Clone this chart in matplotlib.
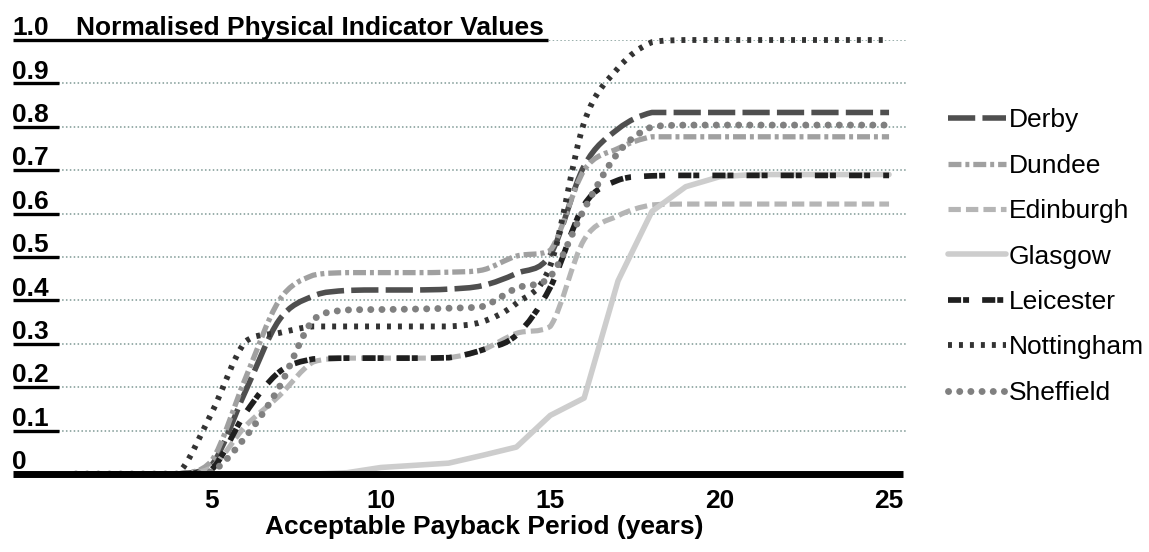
import matplotlib
matplotlib.use('Agg')
import matplotlib.pyplot as plt
from matplotlib.path import Path
from matplotlib.patches import PathPatch
from matplotlib.lines import Line2D
from matplotlib.transforms import blended_transform_factory

years = list(range(1, 26))

derby = [0, 0, 0, 0, 0.02, 0.19, 0.355, 0.41, 0.423, 0.424, 0.424, 0.426, 0.434,
         0.462, 0.505, 0.71, 0.795, 0.833, 0.833, 0.833, 0.833, 0.833, 0.833, 0.833, 0.833]
dundee = [0, 0, 0, 0, 0.03, 0.22, 0.40, 0.458, 0.464, 0.464, 0.464, 0.465, 0.47,
          0.502, 0.515, 0.70, 0.75, 0.777, 0.777, 0.777, 0.777, 0.777, 0.777, 0.777, 0.777]
edinburgh = [0, 0, 0, 0, 0.015, 0.11, 0.18, 0.258, 0.267, 0.267, 0.267, 0.268, 0.286,
             0.324, 0.34, 0.54, 0.595, 0.62, 0.622, 0.622, 0.622, 0.622, 0.622, 0.622, 0.622]
glasgow = [0, 0, 0, 0, 0, 0, 0, 0, 0.003, 0.015, 0.02, 0.025, 0.043,
           0.062, 0.135, 0.175, 0.445, 0.605, 0.662, 0.685, 0.69, 0.69, 0.69, 0.69, 0.69]
leicester = [0, 0, 0, 0, 0.01, 0.14, 0.235, 0.265, 0.267, 0.267, 0.267, 0.268, 0.286,
             0.32, 0.43, 0.62, 0.677, 0.687, 0.688, 0.688, 0.688, 0.688, 0.688, 0.688, 0.688]
nottingham = [0, 0, 0, 0, 0.14, 0.305, 0.325, 0.34, 0.34, 0.34, 0.34, 0.34, 0.351,
              0.393, 0.48, 0.81, 0.935, 0.995, 1.0, 1.0, 1.0, 1.0, 1.0, 1.0, 1.0]
sheffield = [0, 0, 0, 0, 0.005, 0.085, 0.20, 0.355, 0.378, 0.379, 0.38, 0.382, 0.386,
             0.428, 0.455, 0.61, 0.74, 0.80, 0.804, 0.804, 0.804, 0.804, 0.804, 0.804, 0.804]

names = ['Derby', 'Dundee', 'Edinburgh', 'Glasgow', 'Leicester', 'Nottingham', 'Sheffield']
y_ticks = [0, 0.1, 0.2, 0.3, 0.4, 0.5, 0.6, 0.7, 0.8, 0.9, 1.0]
y_labels = ['0', '0.1', '0.2', '0.3', '0.4', '0.5', '0.6', '0.7', '0.8', '0.9', '1.0']
x_ticks = [5, 10, 15, 20, 25]

plt.rcParams['font.family'] = ['Liberation Sans', 'DejaVu Sans']
FS = 19

W, H = 1149, 552
fig = plt.figure(figsize=(W / 100, H / 100), dpi=100)
ax = fig.add_axes([59 / W, 1 - 474 / H, 847 / W, 434 / H])
ax.set_xlim(0.5, 25.5)
ax.set_ylim(0, 1)
for s in ax.spines.values():
    s.set_visible(False)
ax.patch.set_alpha(0)
ax.set_yticks([])
ax.set_xticks(x_ticks)
ax.set_xticklabels([str(t) for t in x_ticks], fontweight='bold', fontsize=FS)
ax.tick_params(axis='x', length=0, pad=10.5)


def smooth_path(xs, ys):
    # smoothed line like excel, control points kept inside each segment so no overshoot
    pts = list(zip(xs, ys))
    n = len(pts)
    verts = [pts[0]]
    codes = [Path.MOVETO]
    for i in range(n - 1):
        p0 = pts[max(i - 1, 0)]
        p1 = pts[i]
        p2 = pts[i + 1]
        p3 = pts[min(i + 2, n - 1)]
        lo, hi = min(p1[1], p2[1]), max(p1[1], p2[1])
        c1y = min(max(p1[1] + (p2[1] - p0[1]) / 6, lo), hi)
        c2y = min(max(p2[1] - (p3[1] - p1[1]) / 6, lo), hi)
        c1 = (p1[0] + (p2[0] - p0[0]) / 6, c1y)
        c2 = (p2[0] - (p3[0] - p1[0]) / 6, c2y)
        verts += [c1, c2, p2]
        codes += [Path.CURVE4] * 3
    return Path(verts, codes)


# gridlines
grid_col = '#87A09C'
for v in y_ticks[1:]:
    ax.axhline(v, color=grid_col, lw=1.35, linestyle=(0, (0.01, 2.05)),
               dash_capstyle='round', zorder=1)

styles = {
    'Derby': dict(color='#4F4F4F', lw=4.0, ls=(0, (4.9, 1.3)), cap='butt'),
    'Dundee': dict(color='#A0A0A0', lw=3.8, ls=(0, (2.45, 0.75, 0.75, 0.75)), cap='butt'),
    'Edinburgh': dict(color='#B5B5B5', lw=3.7, ls=(0, (2.4, 1.0)), cap='butt'),
    'Glasgow': dict(color='#CDCDCD', lw=4.0, ls='-', cap='round'),
    'Leicester': dict(color='#1F1F1F', lw=4.1, ls=(0, (2.3, 0.35, 1.05, 2.3)), cap='butt'),
    'Nottingham': dict(color='#333333', lw=4.2, ls=(0, (0.68, 1.2)), cap='butt'),
    'Sheffield': dict(color='#808080', lw=5.0, ls=(0, (0.01, 1.6)), cap='round'),
}
series = [derby, dundee, edinburgh, glasgow, leicester, nottingham, sheffield]

for k, (name, vals) in enumerate(zip(names, series)):
    st = styles[name]
    if name == 'Glasgow':
        ax.plot(years, vals, color=st['color'], lw=st['lw'], solid_capstyle='round',
                solid_joinstyle='round', zorder=2 + k, clip_on=False)
    else:
        patch = PathPatch(smooth_path(years, vals), fill=False, edgecolor=st['color'],
                          lw=st['lw'], linestyle=st['ls'], capstyle=st['cap'],
                          joinstyle='round', zorder=2 + k, clip_on=False)
        ax.add_patch(patch)

# underlined y labels and the thick zero axis
trans = blended_transform_factory(fig.transFigure, ax.transData)
for v, lbl in zip(y_ticks, y_labels):
    if v == 0:
        ax.plot([12.7 / W, 903 / W], [0, 0], transform=trans, color='black', lw=5,
                solid_capstyle='butt', clip_on=False, zorder=20)
    else:
        x_end = 548 / W if v == 1.0 else 59 / W
        ax.plot([12.7 / W, x_end], [v, v], transform=trans, color='black', lw=2.4,
                solid_capstyle='butt', clip_on=False, zorder=20)
    ax.annotate(lbl, xy=(12 / W, v), xycoords=trans, xytext=(0, 3.5),
                textcoords='offset points', ha='left', va='baseline',
                fontsize=FS, fontweight='bold', annotation_clip=False)

ax.annotate('Normalised Physical Indicator Values', xy=(75.5 / W, 1.0), xycoords=trans,
            xytext=(0, 3.5), textcoords='offset points', ha='left', va='baseline',
            fontsize=FS, fontweight='bold', annotation_clip=False)

fig.text(484 / W, 1 - 527 / H, 'Acceptable Payback Period (years)', ha='center',
         va='center', fontsize=FS, fontweight='bold')

# legend
handles = []
for name in names:
    st = styles[name]
    h = Line2D([], [], color=st['color'], lw=st['lw'], linestyle=st['ls'])
    if st['cap'] == 'round':
        h.set_dash_capstyle('round')
        h.set_solid_capstyle('round')
    handles.append(h)
fig.legend(handles, names, loc='upper left', bbox_to_anchor=(948 / W, 1 - 108.5 / H),
           frameon=False, fontsize=FS, handlelength=2.2, handletextpad=0.1,
           labelspacing=0.81, borderpad=0, borderaxespad=0)

fig.savefig('out.png', dpi=100)
